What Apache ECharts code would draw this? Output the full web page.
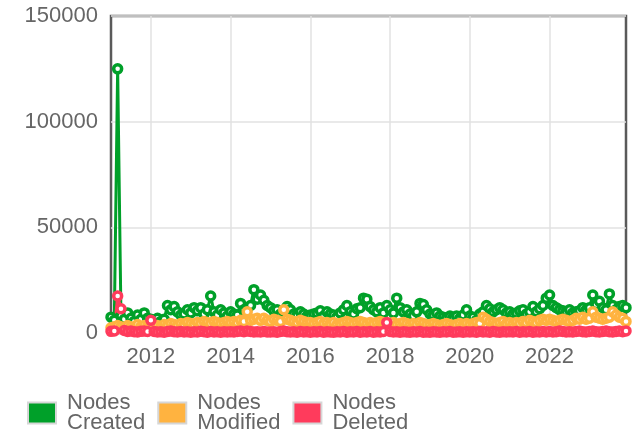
<!DOCTYPE html>
<html>
<head>
<meta charset="utf-8">
<script src="https://cdn.jsdelivr.net/npm/echarts@6/dist/echarts.min.js"></script>
<style>
html, body { margin: 0; padding: 0; background: #fff; }
#chartBox { width: 634px; height: 432px; }
</style>
</head>
<body>
<div id="chartBox"></div>
<script>
// months 2011-01 .. 2023-12
const months = []
for (let y = 2011; y <= 2023; y++) {
  for (let m = 1; m <= 12; m++) {
    months.push(y + '-' + (m < 10 ? '0' + m : m))
  }
}

// one row per year
const nodesCreated = [
  7500, 6000, 125000, 8000, 6500, 9500, 7000, 5500, 8500, 6500, 9500, 7000,
  6500, 6000, 7000, 5500, 6500, 13000, 11000, 12500, 10000, 8500, 9000, 11000,
  9500, 12000, 10500, 12000, 9000, 11000, 17500, 10000, 8500, 11000, 9500, 8000,
  10000, 9000, 8500, 14000, 11000, 12000, 13000, 20500, 16000, 18000, 15500, 13000,
  12000, 10500, 11000, 9000, 9500, 12500, 11000, 9000, 8500, 10000, 9000, 8000,
  8500, 9000, 9500, 10500, 8000, 10000, 9000, 8500, 7500, 9500, 11000, 13000,
  10000, 9000, 11500, 12000, 16500, 16000, 12500, 11000, 10000, 12000, 9500, 13000,
  11000, 9500, 16500, 12000, 10000, 11000, 9000, 8000, 10000, 14000, 13500, 11000,
  9000, 8500, 9500, 8000, 7500, 7000, 8000, 7500, 8000, 7000, 8500, 11000,
  8000, 7500, 6000, 9000, 10000, 13000, 11500, 10000, 11000, 12000, 11000, 9500,
  10000, 9000, 9500, 10500, 11000, 9000, 10000, 12500, 10000, 11500, 13000, 16500,
  18000, 13000, 12000, 11000, 10500, 10000, 11000, 9500, 10000, 10500, 12000, 11000,
  12000, 18000, 13500, 15000, 12000, 11000, 18500, 13000, 11000, 12500, 13000, 12000
]
const nodesModified = [
  2500, 3000, 3500, 3000, 2500, 3500, 3000, 2500, 4000, 3000, 3500, 3000,
  3000, 2500, 3500, 3000, 4000, 3500, 4500, 4000, 3500, 4500, 4000, 5000,
  4500, 4000, 5000, 4500, 5500, 5000, 4500, 5500, 5000, 4500, 5000, 5500,
  5000, 5500, 5000, 6000, 5500, 10000, 6000, 6500, 7000, 6000, 7000, 6000,
  5500, 6500, 6000, 5500, 11000, 6500, 6000, 5500, 5000, 6000, 5500, 5000,
  5000, 4500, 5000, 5500, 4500, 5000, 4500, 5000, 4000, 4500, 5000, 5500,
  5000, 4500, 5000, 5500, 5000, 4500, 5000, 4500, 5000, 5500, 5000, 4500,
  4500, 5000, 4000, 4500, 5000, 4500, 4000, 4500, 4000, 5000, 4500, 4000,
  4000, 4500, 4000, 3500, 4000, 4500, 4000, 3500, 4000, 4500, 4000, 4500,
  4000, 4500, 5000, 4500, 7500, 6500, 5500, 5000, 4500, 5000, 5500, 4500,
  5000, 4500, 5000, 4500, 5500, 5000, 6000, 5500, 5000, 6000, 6500, 6000,
  6500, 6000, 5500, 6000, 6500, 6000, 5500, 6000, 7000, 6500, 7500, 6500,
  7000, 10000, 7500, 7000, 6500, 7000, 7500, 10000, 8500, 7500, 7000, 5500
]
const nodesDeleted = [
  800, 1000, 17500, 11500, 1200, 700, 900, 600, 500, 800, 900, 700,
  6000, 700, 500, 600, 400, 700, 900, 600, 500, 700, 500, 600,
  400, 600, 500, 800, 600, 400, 700, 500, 600, 400, 600, 500,
  600, 500, 700, 900, 600, 1000, 700, 500, 600, 500, 700, 500,
  500, 600, 400, 700, 900, 600, 500, 600, 400, 700, 500, 600,
  400, 600, 500, 700, 400, 600, 500, 400, 600, 500, 700, 400,
  600, 500, 700, 400, 600, 500, 700, 400, 600, 500, 700, 5000,
  700, 500, 600, 400, 600, 500, 400, 600, 500, 700, 400, 500,
  400, 600, 500, 400, 600, 500, 700, 400, 500, 600, 400, 600,
  500, 600, 400, 700, 500, 600, 400, 700, 500, 400, 600, 500,
  600, 500, 700, 400, 600, 500, 700, 400, 600, 500, 700, 500,
  700, 500, 600, 900, 700, 500, 600, 500, 700, 900, 600, 500,
  700, 900, 600, 500, 700, 900, 600, 500, 700, 900, 600, 1000
]
const seriesNames = ['Nodes\nCreated', 'Nodes\nModified', 'Nodes\nDeleted']
const colors = ['#00a029', '#ffb340', '#ff3b5c']

// only January of even years gets a label / grid line
const evenYear = function (index, value) {
  return value.slice(5) === '01' && parseInt(value.slice(0, 4)) % 2 === 0
}

const font = 'Liberation Sans, Arial, sans-serif'

function makeSeries (i, data) {
  return {
    name: seriesNames[i],
    type: 'line',
    data: data,
    symbol: 'circle',
    symbolSize: 8,
    showAllSymbol: true,
    itemStyle: { color: '#fff', borderColor: colors[i], borderWidth: 3.5 },
    lineStyle: { color: colors[i], width: 3 }
  }
}

let myChart = echarts.init(document.getElementById('chartBox'))
myChart.setOption({
  animation: false,
  grid: {
    left: 111,
    right: 8,
    top: 16,
    bottom: 99,
    show: true,
    borderColor: '#5a5a5a',
    borderWidth: 2.5
  },
  legend: {
    left: 22,
    top: 387,
    icon: 'rect',
    itemWidth: 28,
    itemHeight: 21,
    itemGap: 12,
    textStyle: {
      fontFamily: font,
      fontSize: 22,
      lineHeight: 20,
      color: '#666',
      padding: [0, 0, 0, 6]
    },
    data: seriesNames.map(function (name, i) {
      return {
        name: name,
        itemStyle: { color: colors[i], borderColor: '#d6d6d6', borderWidth: 2 }
      }
    })
  },
  xAxis: {
    type: 'category',
    data: months,
    boundaryGap: false,
    axisLine: { show: false },
    axisTick: { show: false },
    axisLabel: {
      interval: evenYear,
      formatter: function (v) { return v.slice(0, 4) },
      fontFamily: font,
      fontSize: 22,
      color: '#666',
      margin: 13
    },
    splitLine: {
      show: true,
      interval: evenYear,
      lineStyle: { color: '#e2e2e2', width: 1.5 }
    }
  },
  yAxis: {
    type: 'value',
    min: 0,
    max: 150000,
    interval: 50000,
    axisLine: { show: false },
    axisTick: { show: false },
    axisLabel: {
      formatter: function (v) { return String(v) },
      fontFamily: font,
      fontSize: 22,
      color: '#666',
      margin: 13
    },
    splitLine: { lineStyle: { color: '#e2e2e2', width: 1.5 } }
  },
  series: [
    makeSeries(0, nodesCreated),
    makeSeries(1, nodesModified),
    makeSeries(2, nodesDeleted)
  ]
})
</script>
</body>
</html>
